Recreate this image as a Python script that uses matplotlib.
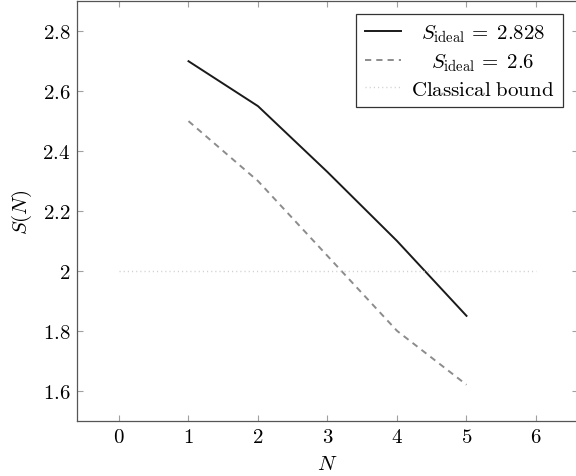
import numpy as np
import matplotlib
matplotlib.use("Agg")
import matplotlib.pyplot as plt

plt.rcParams["mathtext.fontset"] = "cm"
plt.rcParams["font.family"] = "serif"
plt.rcParams["font.serif"] = ["cmr10", "DejaVu Serif"]
plt.rcParams["axes.formatter.use_mathtext"] = True

# data
N = [1, 2, 3, 4, 5]
s_2828 = [2.70, 2.55, 2.33, 2.10, 1.85]
s_26 = [2.50, 2.30, 2.05, 1.80, 1.62]
bound_x = [0, 6]
bound_y = [2, 2]

x_ticks = [0, 1, 2, 3, 4, 5, 6]
y_ticks = [1.6, 1.8, 2.0, 2.2, 2.4, 2.6, 2.8]
y_labels = ["1.6", "1.8", "2", "2.2", "2.4", "2.6", "2.8"]

labels = [r"$S_{\mathrm{ideal}}\,=\;2.828$",
          r"$S_{\mathrm{ideal}}\,=\;2.6$",
          r"$\mathrm{Classical\ bound}$"]

fs = 15

fig = plt.figure(figsize=(5.76, 4.77), dpi=100)
W, H = 576, 477
ax = fig.add_axes([77.3 / W, (H - 421.7) / H, 500.4 / W, 419.4 / H])

ax.plot(N, s_2828, color="#1a1a1a", lw=1.4, label=labels[0])
ax.plot(N, s_26, color="#8c8c8c", lw=1.4, ls=(0, (3.2, 2.6)), label=labels[1])
ax.plot(bound_x, bound_y, color="#cfcfcf", lw=1.0, ls=(0, (0.8, 2.2)), label=labels[2])

ax.set_xlim(-0.6, 6.6)
ax.set_ylim(1.5, 2.9)
ax.set_xticks(x_ticks)
ax.set_xticklabels(["$%d$" % t for t in x_ticks], fontsize=fs)
ax.set_yticks(y_ticks)
ax.set_yticklabels(["$%s$" % t for t in y_labels], fontsize=fs)
ax.tick_params(direction="in", length=4.5, width=0.8, color="#a0a0a0",
               top=True, right=True, pad=5)

for sp in ax.spines.values():
    sp.set_color("#555555")
    sp.set_linewidth(0.9)

ax.set_xlabel(r"$N$", fontsize=fs, labelpad=7)
ax.set_ylabel(r"$S(N)$", fontsize=fs, labelpad=6)

leg = ax.legend(loc="upper right", bbox_to_anchor=(0.9706, 0.9697),
                borderaxespad=0, fontsize=fs, fancybox=False, framealpha=1,
                handlelength=1.75, labelspacing=0.35, borderpad=0.4,
                handletextpad=0.5)
leg.get_frame().set_edgecolor("#333333")
leg.get_frame().set_linewidth(0.9)

# center the legend texts like the pgfplots legend
fig.canvas.draw()
r = fig.canvas.get_renderer()
widths = [t.get_window_extent(r).width for t in leg.get_texts()]
wmax = max(widths)
for t, w in zip(leg.get_texts(), widths):
    t.set_x((wmax - w) / 2)

fig.savefig("out.png", dpi=100)
